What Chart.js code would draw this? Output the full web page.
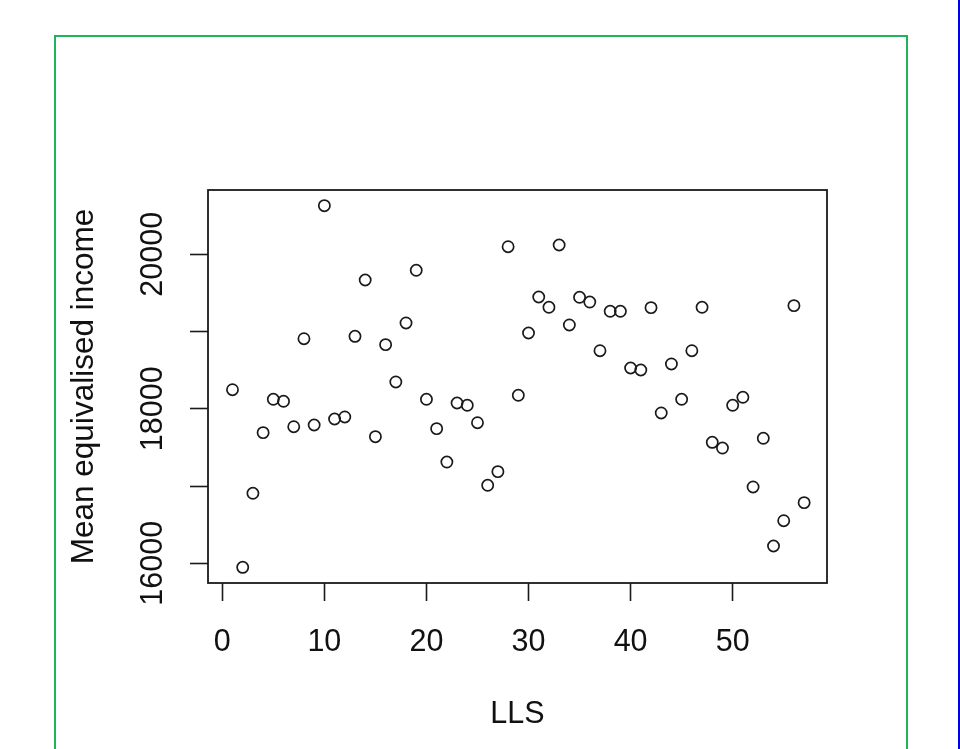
<!DOCTYPE html>
<html>
<head>
<meta charset="utf-8">
<script src="https://cdn.jsdelivr.net/npm/chart.js@4.4.1/dist/chart.umd.min.js"></script>
<style>
  html, body { margin: 0; padding: 0; background: #ffffff; }
  #wrap { position: relative; width: 960px; height: 749px; overflow: hidden; background: #ffffff; }
  #c { position: absolute; left: 0; top: 0; }
  #greenBox { position: absolute; left: 54px; top: 35px; width: 850px; height: 760px; border: 2px solid #1fb35a; pointer-events: none; }
  #blueLine { position: absolute; left: 958px; top: 0; width: 2px; height: 749px; background: #0000e0; pointer-events: none; }
</style>
</head>
<body>
<div id="wrap">
  <canvas id="c" width="960" height="749"></canvas>
  <div id="greenBox"></div>
  <div id="blueLine"></div>
</div>
<script>
// ---- Data ----
const lls = [1,2,3,4,5,6,7,8,9,10,11,12,13,14,15,16,17,18,19,20,
             21,22,23,24,25,26,27,28,29,30,31,32,33,34,35,36,37,38,39,40,
             41,42,43,44,45,46,47,48,49,50,51,52,53,54,55,56,57];
const meanIncome = [18247,15948,16906,17691,18123,18097,17768,18907,17790,20629,
                    17868,17894,18938,19667,17639,18830,18347,19111,19793,18123,
                    17743,17311,18075,18045,17820,17010,17186,20098,18175,18981,
                    19447,19314,20120,19085,19443,19382,18752,19262,19262,18528,
                    18502,19309,17946,18580,18123,18752,19314,17566,17492,18045,
                    18149,16988,17618,16224,16551,19335,16785];
const xTickValues = [0,10,20,30,40,50];
const yTickValues = [16000,17000,18000,19000,20000];
const yTickLabelled = [16000,18000,20000];
const xTitle = "LLS";
const yTitle = "Mean equivalised income";

const points = lls.map((x, i) => ({ x: x, y: meanIncome[i] }));

const FONT = "'Liberation Sans', Arial, Helvetica, sans-serif";
const INK = '#1a1a1a';

const boxPlugin = {
  id: 'boxPlugin',
  beforeDraw(chart) {
    const ctx = chart.ctx;
    ctx.save();
    ctx.fillStyle = '#ffffff';
    ctx.fillRect(0, 0, chart.width, chart.height);
    ctx.restore();
  },
  afterDraw(chart) {
    const a = chart.chartArea;
    const ctx = chart.ctx;
    ctx.save();
    ctx.strokeStyle = INK;
    ctx.lineWidth = 1.8;
    ctx.strokeRect(a.left, a.top, a.right - a.left, a.bottom - a.top);
    ctx.restore();
  }
};

new Chart(document.getElementById('c'), {
  type: 'scatter',
  data: {
    datasets: [{
      data: points,
      pointStyle: 'circle',
      pointRadius: 5.6,
      pointHoverRadius: 5.6,
      pointBorderWidth: 1.7,
      pointBorderColor: INK,
      pointBackgroundColor: 'rgba(0,0,0,0)'
    }]
  },
  options: {
    responsive: false,
    animation: false,
    events: [],
    layout: { padding: { left: 0, top: 190, right: 133, bottom: 0 } },
    plugins: { legend: { display: false }, tooltip: { enabled: false } },
    scales: {
      x: {
        type: 'linear',
        min: -1.4,
        max: 59.24,
        afterFit: s => { s.height = 166; },
        afterBuildTicks: s => { s.ticks = xTickValues.map(v => ({ value: v })); },
        border: { display: false },
        grid: { display: true, drawOnChartArea: false, drawTicks: true, tickLength: 18, tickColor: INK, tickWidth: 1.6 },
        ticks: {
          autoSkip: false, maxRotation: 0, minRotation: 0, padding: 23,
          color: '#111', font: { family: FONT, size: 30.5 },
          callback: v => String(v)
        },
        title: { display: true, text: xTitle, color: '#111', font: { family: FONT, size: 30.5 }, padding: { top: 0, bottom: 16 } }
      },
      y: {
        type: 'linear',
        min: 15745,
        max: 20832,
        afterFit: s => { s.width = 208; },
        afterBuildTicks: s => { s.ticks = yTickValues.map(v => ({ value: v })); },
        border: { display: false },
        grid: { display: true, drawOnChartArea: false, drawTicks: true, tickLength: 18, tickColor: INK, tickWidth: 1.6 },
        ticks: {
          autoSkip: false, minRotation: 90, maxRotation: 90, crossAlign: 'center', padding: -6,
          color: '#111', font: { family: FONT, size: 30.5 },
          callback: v => (yTickLabelled.includes(v) ? String(v) : '')
        },
        title: { display: true, text: yTitle, color: '#111', font: { family: FONT, size: 31.5 }, padding: { top: 65, bottom: 0 } }
      }
    }
  },
  plugins: [boxPlugin]
});
</script>
</body>
</html>
